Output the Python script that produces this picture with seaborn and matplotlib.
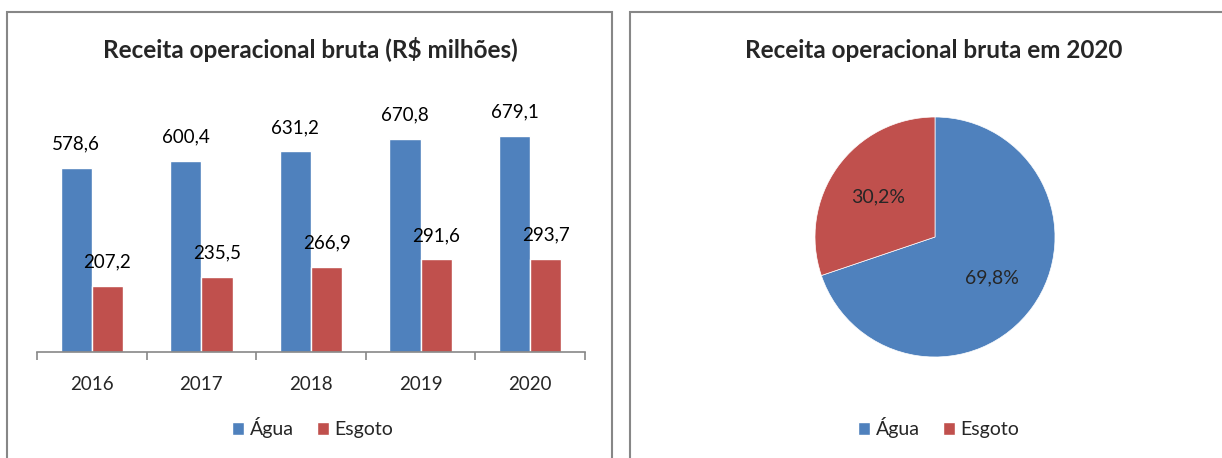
import pandas as pd
import matplotlib.pyplot as plt
import seaborn as sns
from matplotlib.patches import Rectangle, Patch

# Data
anos = ['2016', '2017', '2018', '2019', '2020']
agua = [578.6, 600.4, 631.2, 670.8, 679.1]
esgoto = [207.2, 235.5, 266.9, 291.6, 293.7]
pie_labels = ['Água', 'Esgoto']
pie_share = [69.8, 30.2]

AZUL = '#4F81BD'
VERMELHO = '#C0504D'
CINZA = '#878787'

sns.set_theme(style="white")
plt.rcParams['font.family'] = ['Lato', 'DejaVu Sans']

df = pd.DataFrame({
    'ano': anos * 2,
    'valor': agua + esgoto,
    'tipo': ['Água'] * len(anos) + ['Esgoto'] * len(anos),
})

fig = plt.figure(figsize=(12.22, 4.58), dpi=100)
W, H = 1222, 458

# panel borders
fig.patches.append(Rectangle((7 / W, -0.05), 605 / W, 1.05 - 12 / H, transform=fig.transFigure,
                             fill=False, edgecolor=CINZA, linewidth=1.5))
fig.patches.append(Rectangle((630 / W, -0.05), 0.5, 1.05 - 12 / H, transform=fig.transFigure,
                             fill=False, edgecolor=CINZA, linewidth=1.5))

# 1. Bar chart
ax = fig.add_axes([37 / W, 106 / H, 548 / W, 254.4 / H])
sns.barplot(data=df, x='ano', y='valor', hue='tipo', palette=[AZUL, VERMELHO],
            saturation=1, width=0.57, ax=ax)
ax.set_ylim(0, 800)
ax.set_xlim(-0.5, 4.5)
for cont in ax.containers:
    ax.bar_label(cont, labels=[f"{b.get_height():.1f}".replace('.', ',') for b in cont],
                 padding=11, fontsize=13.5, color='black')
ax.get_legend().remove()
ax.set_xlabel('')
ax.set_ylabel('')
ax.set_yticks([])
for s in ['top', 'left', 'right']:
    ax.spines[s].set_visible(False)
ax.spines['bottom'].set_color(CINZA)
ax.spines['bottom'].set_linewidth(1.2)
ax.set_xticks([-0.5, 0.5, 1.5, 2.5, 3.5, 4.5], minor=True)
ax.tick_params(axis='x', which='minor', bottom=True, length=6, color=CINZA, width=1.2)
ax.tick_params(axis='x', which='major', bottom=False, labelsize=13.5, pad=11)
fig.text(310 / W, 1 - 50 / H, 'Receita operacional bruta (R$ milhões)', ha='center', va='center',
         fontsize=17.5, fontweight='bold')

handles = [Patch(facecolor=AZUL), Patch(facecolor=VERMELHO)]
leg_kw = dict(loc='center', ncol=2, frameon=False, fontsize=14, handlelength=0.6,
              handleheight=0.6, handletextpad=0.3, columnspacing=1.2)
fig.legend(handles, pie_labels, bbox_to_anchor=(313 / W, 1 - 428 / H), **leg_kw)

# 2. Pie chart
ax2 = fig.add_axes([785 / W, 71 / H, 300 / W, 300 / H])
ax2.pie(pie_share, colors=[AZUL, VERMELHO], startangle=90, counterclock=False,
        autopct=lambda p: f"{p:.1f}%".replace('.', ','), pctdistance=0.58,
        wedgeprops=dict(edgecolor='white', linewidth=0.5), textprops=dict(fontsize=14))
ax2.set_aspect('equal')
fig.text(934 / W, 1 - 50 / H, 'Receita operacional bruta em 2020', ha='center', va='center',
         fontsize=17.5, fontweight='bold')
fig.legend(handles, pie_labels, bbox_to_anchor=(939 / W, 1 - 428 / H), **leg_kw)

fig.savefig('out.png', dpi=100)
plt.close(fig)
